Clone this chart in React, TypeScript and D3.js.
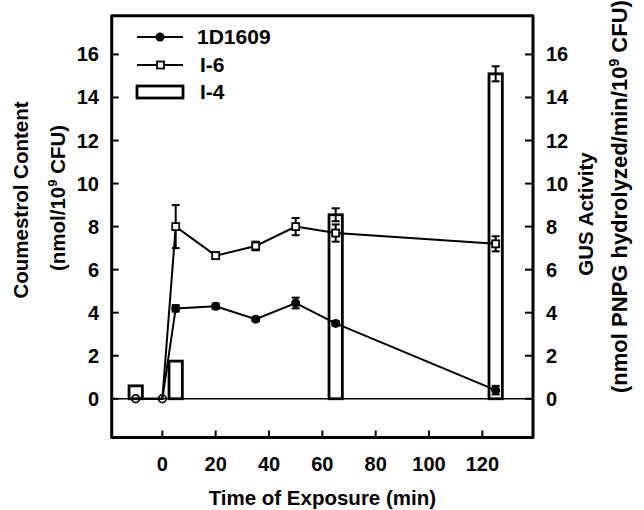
import React from "react";
import * as d3 from "d3";

// sampling times (min) shared by both line series
const times = [-10, 0, 5, 20, 35, 50, 65, 125];
// coumestrol content, strain 1D1609
const d1609 = [0, 0, 4.2, 4.3, 3.7, 4.45, 3.5, 0.4];
const d1609Err = [0, 0, 0.15, 0.12, 0.1, 0.25, 0.1, 0.2];
// coumestrol content, strain I-6
const i6 = [0, 0, 8.0, 6.65, 7.1, 8.0, 7.7, 7.2];
const i6Err = [0, 0, 1.0, 0.15, 0.2, 0.4, 0.4, 0.35];
// GUS activity, strain I-4 (bars)
const i4Times = [-10, 5, 65, 125];
const i4 = [0.6, 1.75, 8.55, 15.1];
const i4Err = [0, 0, 0.3, 0.35];

const xTicks = [0, 20, 40, 60, 80, 100, 120];
const yTicks = [0, 2, 4, 6, 8, 10, 12, 14, 16];

const W = 644;
const H = 510;
const left = 111.7, right = 533, top = 15.7, bottom = 437.5;
const font = "'Liberation Sans', Arial, Helvetica, sans-serif";

const App = () => {
  const x = d3.scaleLinear().domain([-19, 139]).range([left, right]);
  const y = d3.scaleLinear().domain([-1.8, 17.8]).range([bottom, top]);
  const barW = x(2.5) - x(-2.5);

  const line = d3
    .line<number>()
    .x((d, i) => x(times[i]))
    .y(d => y(d));

  const errBar = (t: number, v: number, e: number, key: string) =>
    e > 0 ? (
      <g key={key} stroke="#000" strokeWidth={2}>
        <line x1={x(t)} x2={x(t)} y1={y(v + e)} y2={y(v - e)} />
        <line x1={x(t) - 4} x2={x(t) + 4} y1={y(v + e)} y2={y(v + e)} />
        <line x1={x(t) - 4} x2={x(t) + 4} y1={y(v - e)} y2={y(v - e)} />
      </g>
    ) : null;

  return (
    <svg
      width={W}
      height={H}
      style={{ position: "absolute", left: 0, top: 0, background: "#fff" }}
      fontFamily={font}
      fontWeight="bold"
    >
      <rect width={W} height={H} fill="#fff" />

      {/* zero line */}
      <line x1={left} x2={right} y1={y(0)} y2={y(0)} stroke="#000" strokeWidth={1.6} />

      {/* I-4 bars */}
      {i4.map((v, i) => (
        <rect
          key={"b" + i}
          x={x(i4Times[i]) - barW / 2}
          y={y(v)}
          width={barW}
          height={y(0) - y(v)}
          fill="#fff"
          stroke="#000"
          strokeWidth={2.8}
        />
      ))}
      {i4.map((v, i) => errBar(i4Times[i], v, i4Err[i], "be" + i))}

      {/* lines */}
      <path d={line(d1609) || ""} fill="none" stroke="#000" strokeWidth={2} />
      <path d={line(i6) || ""} fill="none" stroke="#000" strokeWidth={2} />

      {d1609.map((v, i) => errBar(times[i], v, d1609Err[i], "de" + i))}
      {i6.map((v, i) => errBar(times[i], v, i6Err[i], "ie" + i))}

      {/* markers */}
      {d1609.map((v, i) =>
        times[i] > 0 ? (
          <circle key={"dm" + i} cx={x(times[i])} cy={y(v)} r={4.5} fill="#000" />
        ) : (
          <circle key={"dm" + i} cx={x(times[i])} cy={y(v)} r={3.8} fill="none" stroke="#000" strokeWidth={1.8} />
        )
      )}
      {i6.map((v, i) =>
        times[i] > 0 ? (
          <rect key={"im" + i} x={x(times[i]) - 3.5} y={y(v) - 3.5} width={7} height={7} fill="#fff" stroke="#000" strokeWidth={1.8} />
        ) : null
      )}

      {/* frame */}
      <rect x={left} y={top} width={right - left} height={bottom - top} fill="none" stroke="#000" strokeWidth={3} strokeLinejoin="round" />

      {/* ticks */}
      {yTicks.map(t => (
        <g key={"yt" + t} stroke="#000" strokeWidth={2}>
          <line x1={left} x2={left + 7} y1={y(t)} y2={y(t)} />
          <line x1={right} x2={right - 8} y1={y(t)} y2={y(t)} />
        </g>
      ))}
      {xTicks.map(t => (
        <line key={"xt" + t} x1={x(t)} x2={x(t)} y1={bottom} y2={bottom - 7} stroke="#000" strokeWidth={2} />
      ))}

      {/* tick labels */}
      {yTicks.map(t => (
        <g key={"yl" + t} fontSize={20}>
          <text x={99} y={y(t) + 7} textAnchor="end">{t}</text>
          <text x={546} y={y(t) + 7} textAnchor="start">{t}</text>
        </g>
      ))}
      {xTicks.map(t => (
        <text key={"xl" + t} x={x(t)} y={471} fontSize={20} textAnchor="middle">{t}</text>
      ))}

      {/* axis titles */}
      <text x={(left + right) / 2} y={505} fontSize={20.5} textAnchor="middle">Time of Exposure (min)</text>
      <g fontSize={20.5} textAnchor="middle">
        <text transform={`translate(28,200) rotate(-90)`}>Coumestrol Content</text>
        <text transform={`translate(65,198) rotate(-90)`}>
          (nmol/10<tspan dy={-8} fontSize={13}>9</tspan><tspan dy={8}> CFU)</tspan>
        </text>
        <text transform={`translate(593,214) rotate(-90)`}>GUS Activity</text>
      </g>
      <text transform={`translate(627,393) rotate(-90)`} fontSize={22} textAnchor="start">
        (nmol PNPG hydrolyzed/min/10<tspan dy={-8} fontSize={14}>9</tspan><tspan dy={8}> CFU)</tspan>
      </text>

      {/* legend */}
      <g>
        <line x1={137} x2={183} y1={37} y2={37} stroke="#000" strokeWidth={2} />
        <circle cx={160} cy={37} r={4.5} fill="#000" />
        <text x={197} y={44} fontSize={21}>1D1609</text>

        <line x1={137} x2={183} y1={65} y2={65} stroke="#000" strokeWidth={2} />
        <rect x={157} y={61.5} width={7} height={7} fill="#fff" stroke="#000" strokeWidth={1.8} />
        <text x={200} y={72} fontSize={21}>I-6</text>

        <rect x={137} y={86} width={46} height={12} fill="#fff" stroke="#000" strokeWidth={2.8} />
        <text x={200} y={99} fontSize={21}>I-4</text>
      </g>
    </svg>
  );
};

export default App;
